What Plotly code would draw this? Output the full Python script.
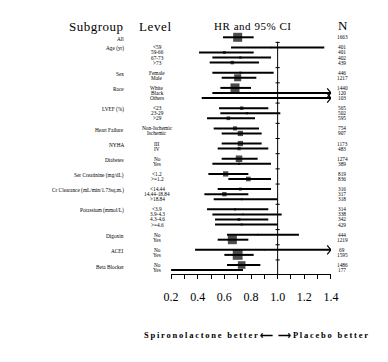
import plotly.graph_objects as go

# ---------------- data ----------------
subgroup_names = ["All", "Age (yr)", "Sex", "Race", "LVEF (%)", "Heart Failure", "NYHA",
                  "Diabetes", "Ser Creatinine (mg/dL)", "Cr Clearance (mL/min/1.73sq.m.)",
                  "Potassium (mmol/L)", "Digoxin", "ACEI", "Beta Blocker"]
level_labels = [[""], ["<59", "59-66", "67-73", ">73"], ["Female", "Male"],
                ["White", "Black", "Others"], ["<23", "23-29", ">29"],
                ["Non-Ischemic", "Ischemic"], ["III", "IV"], ["No", "Yes"],
                ["<1.2", ">=1.2"], ["<14.44", "14.44-18.84", ">18.84"],
                ["<3.9", "3.9-4.3", "4.3-4.6", ">=4.6"], ["No", "Yes"], ["No", "Yes"],
                ["No", "Yes"]]
n_values = [[1663], [401, 401, 402, 439], [446, 1217], [1440, 120, 103], [565, 502, 595],
            [754, 907], [1173, 483], [1274, 389], [819, 836], [316, 317, 318],
            [314, 338, 342, 429], [444, 1219], [69, 1595], [1486, 177]]
hr_values = [[0.70], [0.95, 0.60, 0.72, 0.66], [0.72, 0.70], [0.68, 0.95, 0.85],
             [0.73, 0.77, 0.63], [0.68, 0.72], [0.72, 0.71], [0.71, 0.71], [0.61, 0.78],
             [0.72, 0.60, 0.73], [0.68, 0.74, 0.71, 0.73], [0.85, 0.66], [0.90, 0.70],
             [0.73, 0.45]]
ci_lower = [[0.59], [0.65, 0.41, 0.51, 0.49], [0.51, 0.58], [0.57, 0.51, 0.43],
            [0.56, 0.57, 0.47], [0.52, 0.58], [0.58, 0.55], [0.58, 0.51], [0.48, 0.63],
            [0.55, 0.45, 0.52], [0.47, 0.51, 0.53, 0.53], [0.62, 0.55], [0.38, 0.60],
            [0.62, 0.20]]
ci_upper = [[0.82], [1.35, 0.82, 0.95, 0.86], [0.97, 0.84], [0.80, 1.60, 1.70],
            [0.93, 1.02, 0.83], [0.86, 0.88], [0.88, 0.93], [0.85, 0.95], [0.78, 0.95],
            [0.95, 0.78, 1.00], [0.93, 1.03, 0.93, 1.00], [1.16, 0.78], [1.70, 0.82],
            [0.87, 0.74]]
x_ticks = [0.2, 0.4, 0.6, 0.8, 1.0, 1.2, 1.4]

# ---------------- layout geometry ----------------
W, H = 388, 362
ML, MR, MT, MB = 171, 57, 0, 88
PW, PH = W - ML - MR, H - MT - MB
ROW0_PX, ROW_PX = 37.3, 5.06
XMIN, XMAX = 0.2, 1.4
y_top = (0 - ROW0_PX) / ROW_PX
y_bot = (PH - ROW0_PX) / ROW_PX
SERIF = "Liberation Serif, Times New Roman, serif"


def px_x(px):
    return (px - ML) / PW


def px_y(py):
    return (PH - py) / PH


flat = []
r = 0
blank_rows = []
for gi, name in enumerate(subgroup_names):
    for li, lab in enumerate(level_labels[gi]):
        flat.append(dict(group=name if li == 0 else "", level=lab, n=n_values[gi][li],
                         hr=hr_values[gi][li], lo=ci_lower[gi][li], hi=ci_upper[gi][li], row=r))
        r += 1
    blank_rows.append(r)
    r += 1
blank_rows = blank_rows[:-1]

fig = go.Figure()

# CI lines
lx, ly = [], []
ax_, ay_ = [], []
for d in flat:
    lx += [max(d["lo"], XMIN), min(d["hi"], XMAX), None]
    ly += [d["row"], d["row"], None]
    if d["hi"] > XMAX:
        ax_ += [XMAX - 0.028, XMAX, XMAX - 0.028, None]
        ay_ += [d["row"] - 0.9, d["row"], d["row"] + 0.9, None]
fig.add_trace(go.Scatter(x=lx, y=ly, mode="lines", line=dict(color="black", width=2),
                         hoverinfo="skip", cliponaxis=False))
fig.add_trace(go.Scatter(x=ax_, y=ay_, mode="lines", line=dict(color="black", width=1.2),
                         hoverinfo="skip", cliponaxis=False))

# reference line at 1.0
fig.add_trace(go.Scatter(x=[1.0, 1.0], y=[0.9, y_bot], mode="lines",
                         line=dict(color="black", width=1), hoverinfo="skip"))
fig.add_trace(go.Scatter(x=[1.0] * len(blank_rows), y=blank_rows, mode="markers",
                         marker=dict(symbol="line-ew", size=3, line=dict(color="black", width=1)),
                         hoverinfo="skip"))

# HR boxes (size from precision)
sizes = [max(1.5, 9 * (0.23 / (d["hi"] - d["lo"])) ** 2) for d in flat]
fig.add_trace(go.Scatter(x=[d["hr"] for d in flat], y=[d["row"] for d in flat], mode="markers",
                         marker=dict(symbol="square", size=sizes, color="black", line=dict(width=0)),
                         cliponaxis=False))

ann = []
for d in flat:
    if d["group"]:
        ann.append(dict(x=px_x(125.5), y=d["row"] + 0.3, xref="paper", yref="y", text=d["group"],
                        xanchor="right", yanchor="middle", showarrow=False,
                        font=dict(family=SERIF, size=5.3, color="black")))
    if d["level"]:
        ann.append(dict(x=px_x(157), y=d["row"], xref="paper", yref="y", text=d["level"],
                        xanchor="center", yanchor="middle", showarrow=False,
                        font=dict(family=SERIF, size=5.3, color="black")))
    ann.append(dict(x=px_x(342), y=d["row"], xref="paper", yref="y", text=str(d["n"]),
                    xanchor="center", yanchor="middle", showarrow=False,
                    font=dict(family=SERIF, size=5.3, color="black")))

headers = [("Subgroup", 68, 13), ("Level", 138, 13), ("HR and 95% CI", 213, 11)]
for t, x0, fs in headers:
    ann.append(dict(x=px_x(x0), y=px_y(26), xref="paper", yref="paper", text=t, xanchor="left",
                    yanchor="middle", align="left", showarrow=False, borderpad=0,
                    font=dict(family=SERIF, size=fs, color="black")))
ann.append(dict(x=px_x(343), y=px_y(25), xref="paper", yref="paper", text="N", xanchor="center",
                yanchor="middle", showarrow=False, font=dict(family=SERIF, size=13, color="black")))
ann.append(dict(x=px_x(143), y=px_y(335), xref="paper", yref="paper",
                text="Spironolactone better\u27f5 \u27f6Placebo better", xanchor="left",
                yanchor="middle", align="left", showarrow=False, borderpad=0,
                font=dict(family=SERIF, size=8.5, color="black", weight="bold")))

fig.update_layout(
    width=W, height=H, margin=dict(l=ML, r=MR, t=MT, b=MB, autoexpand=False),
    paper_bgcolor="white", plot_bgcolor="white", showlegend=False, annotations=ann,
    hovermode=False,
    xaxis=dict(range=[XMIN - 0.0005, XMAX + 0.0005], tickvals=x_ticks,
               ticktext=[f"{v:.1f}" for v in x_ticks], ticks="outside", ticklen=4,
               tickcolor="black", showline=True, linecolor="black", linewidth=1,
               showgrid=False, zeroline=False, ticklabelstandoff=8, fixedrange=True,
               tickfont=dict(family=SERIF, size=12, color="black"),
               minor=dict(dtick=0.1, tick0=0.2, ticks="outside", ticklen=4, tickcolor="black",
                          showgrid=False)),
    yaxis=dict(range=[y_bot, y_top], visible=False, fixedrange=True),
)

post = """
document.body.style.margin = '0';
document.body.style.padding = '0';
var gd = document.getElementById('{plot_id}');
var target = {"Subgroup": 54, "Level": 32, "HR and 95% CI": 77,
              "Spironolactone better\\u27f5 \\u27f6Placebo better": 224};
function fixText() {
  gd.querySelectorAll('text').forEach(function (t) {
    var s = t.textContent;
    if (target[s]) { t.setAttribute('textLength', target[s]); t.setAttribute('lengthAdjust', 'spacing'); }
  });
}
fixText(); setTimeout(fixText, 50); setTimeout(fixText, 300);
"""
fig.write_html("out.html", config={"displayModeBar": False, "staticPlot": False},
               post_script=post)
